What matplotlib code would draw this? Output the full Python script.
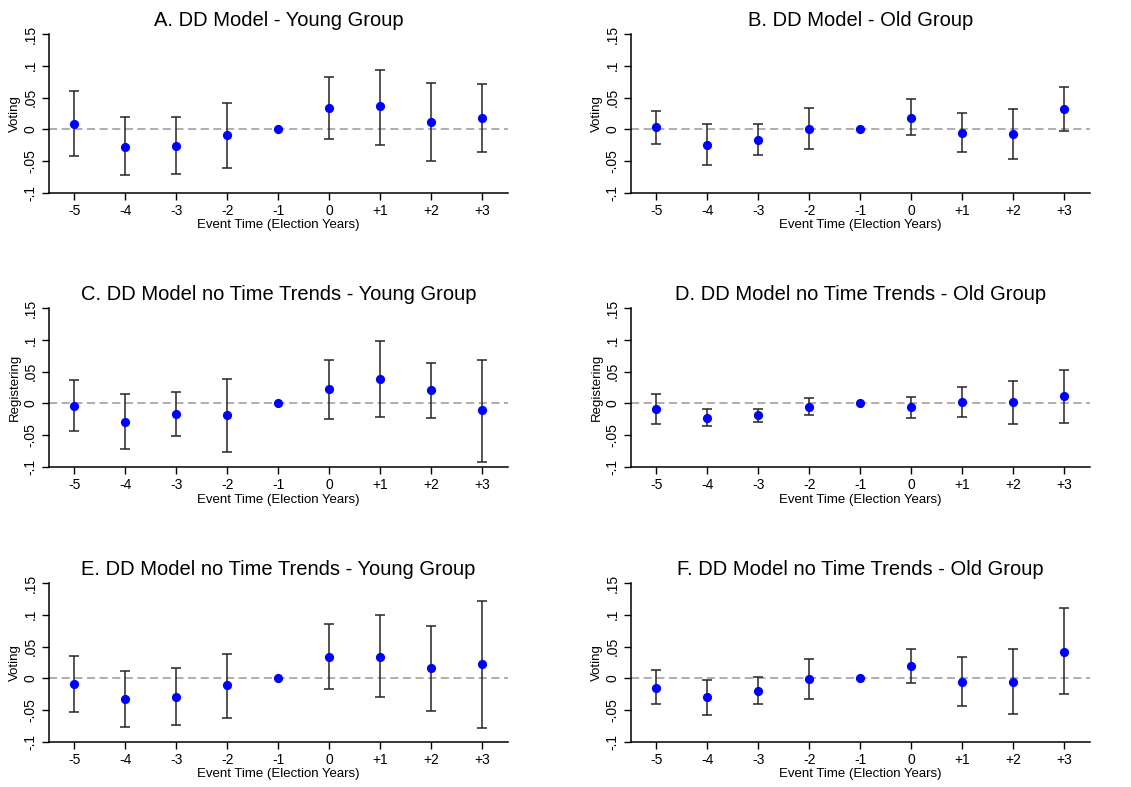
import numpy as np
import matplotlib
matplotlib.use("Agg")
import matplotlib.pyplot as plt

plt.rcParams["font.family"] = ["Liberation Sans", "DejaVu Sans"]

EVENT = ["-5", "-4", "-3", "-2", "-1", "0", "+1", "+2", "+3"]

# point estimates and 95% CI bounds, one set per panel
A_EST = [0.009, -0.027, -0.026, -0.009, 0.0, 0.034, 0.036, 0.012, 0.018]
A_LO = [-0.042, -0.071, -0.070, -0.060, 0.0, -0.015, -0.024, -0.049, -0.036]
A_HI = [0.061, 0.019, 0.019, 0.041, 0.0, 0.083, 0.094, 0.073, 0.072]

B_EST = [0.003, -0.024, -0.016, 0.001, 0.0, 0.018, -0.005, -0.007, 0.032]
B_LO = [-0.023, -0.056, -0.041, -0.031, 0.0, -0.009, -0.035, -0.046, -0.003]
B_HI = [0.029, 0.009, 0.009, 0.033, 0.0, 0.047, 0.026, 0.032, 0.067]

C_EST = [-0.004, -0.029, -0.016, -0.019, 0.0, 0.022, 0.038, 0.021, -0.011]
C_LO = [-0.044, -0.072, -0.051, -0.076, 0.0, -0.025, -0.022, -0.023, -0.092]
C_HI = [0.037, 0.015, 0.018, 0.039, 0.0, 0.068, 0.098, 0.063, 0.069]

D_EST = [-0.009, -0.023, -0.018, -0.005, 0.0, -0.006, 0.003, 0.002, 0.011]
D_LO = [-0.033, -0.036, -0.029, -0.019, 0.0, -0.023, -0.021, -0.033, -0.031]
D_HI = [0.015, -0.009, -0.008, 0.008, 0.0, 0.010, 0.026, 0.035, 0.053]

E_EST = [-0.009, -0.032, -0.029, -0.011, 0.0, 0.034, 0.034, 0.016, 0.022]
E_LO = [-0.053, -0.077, -0.074, -0.062, 0.0, -0.017, -0.030, -0.051, -0.078]
E_HI = [0.035, 0.012, 0.016, 0.039, 0.0, 0.085, 0.099, 0.083, 0.122]

F_EST = [-0.015, -0.030, -0.020, -0.001, 0.0, 0.020, -0.006, -0.005, 0.042]
F_LO = [-0.041, -0.057, -0.041, -0.032, 0.0, -0.008, -0.044, -0.056, -0.024]
F_HI = [0.013, -0.003, 0.002, 0.030, 0.0, 0.047, 0.033, 0.046, 0.110]

PANELS = [
    ("A. DD Model - Young Group", "Voting", A_EST, A_LO, A_HI),
    ("B. DD Model - Old Group", "Voting", B_EST, B_LO, B_HI),
    ("C. DD Model no Time Trends - Young Group", "Registering", C_EST, C_LO, C_HI),
    ("D. DD Model no Time Trends - Old Group", "Registering", D_EST, D_LO, D_HI),
    ("E. DD Model no Time Trends - Young Group", "Voting", E_EST, E_LO, E_HI),
    ("F. DD Model no Time Trends - Old Group", "Voting", F_EST, F_LO, F_HI),
]

YTICKS = [-0.1, -0.05, 0, 0.05, 0.1, 0.15]
YTICKLABELS = ["-.1", "-.05", "0", ".05", ".1", ".15"]

fig = plt.figure(figsize=(11.31, 7.87), dpi=100, facecolor="white")
lefts = [0.0433, 0.5579]
bottoms = [0.7548, 0.4066, 0.0572]
w, h = 0.4058, 0.2020

for i, (title, ylab, est, lo, hi) in enumerate(PANELS):
    ax = fig.add_axes([lefts[i % 2], bottoms[i // 2], w, h])
    x = np.arange(len(EVENT))
    est = np.array(est); lo = np.array(lo); hi = np.array(hi)
    # the -1 period is the omitted reference, drawn without an interval
    has_ci = hi > lo
    ax.axhline(0, color="#a8a8a8", lw=1.3, ls=(0, (4.5, 2.5)), zorder=1)
    ax.errorbar(x[has_ci], est[has_ci],
                yerr=[est[has_ci] - lo[has_ci], hi[has_ci] - est[has_ci]],
                fmt="none", ecolor="#262626", elinewidth=1.1, capsize=3.8, capthick=1.1, zorder=2)
    ax.plot(x, est, "o", color="#0000ff", ms=5.6, zorder=3)

    ax.set_xlim(-0.5, len(EVENT) - 0.5)
    ax.set_ylim(-0.1, 0.15)
    ax.set_xticks(x, EVENT, fontsize=10)
    ax.set_yticks(YTICKS, YTICKLABELS, fontsize=10, rotation=90, va="center")
    ax.tick_params(length=5, width=1, direction="out", pad=3)
    ax.set_xlabel("Event Time (Election Years)", fontsize=9.5, labelpad=1)
    ax.set_ylabel(ylab, fontsize=9.5, labelpad=2)
    ax.set_title(title, fontsize=14.5, pad=6)
    for side in ("top", "right"):
        ax.spines[side].set_visible(False)
    for side in ("left", "bottom"):
        ax.spines[side].set_linewidth(1.1)

fig.savefig("out.png", dpi=100, facecolor="white")
